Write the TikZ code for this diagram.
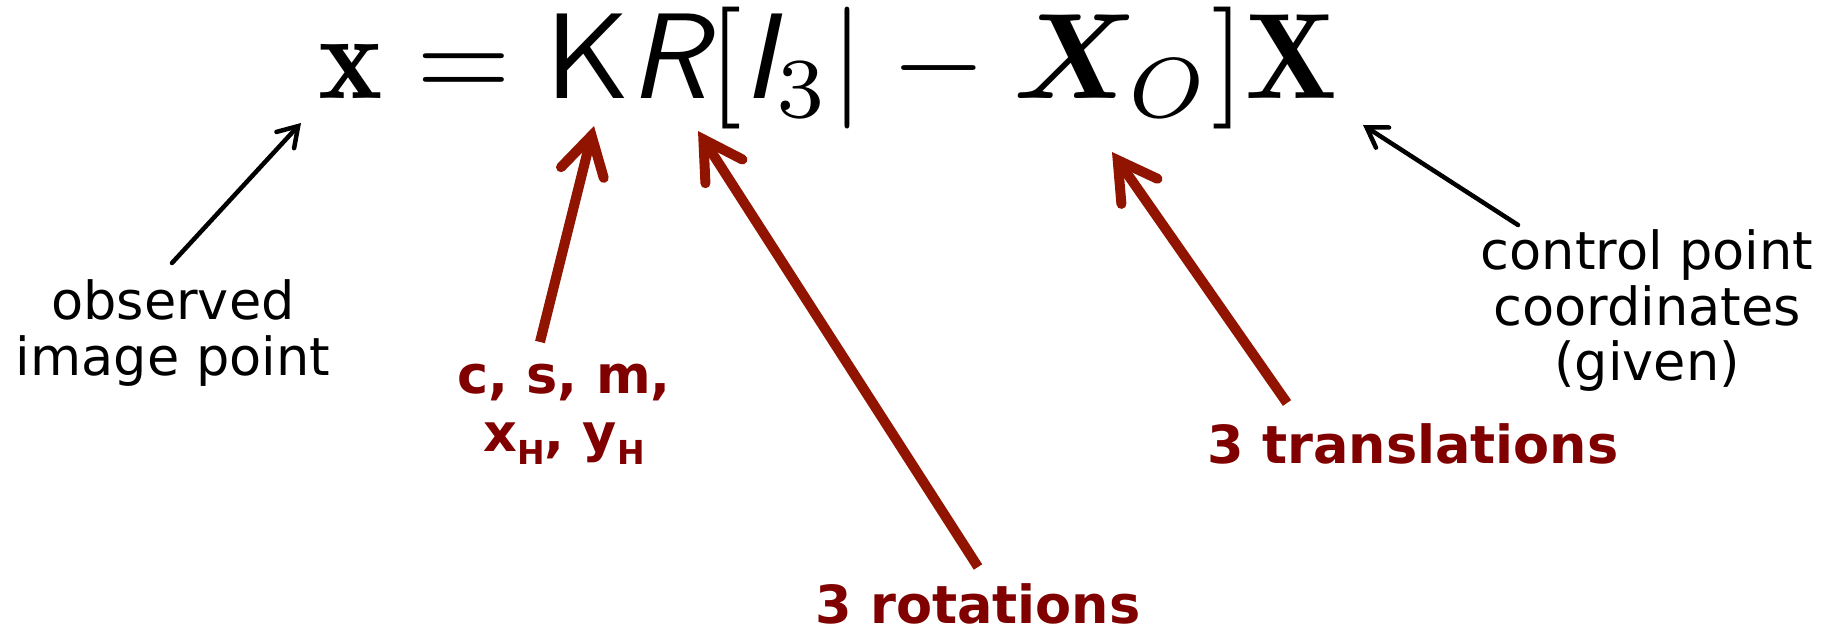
\documentclass[tikz,border=0pt]{standalone}
\usepackage{amsmath}
\usepackage{bm}
\usepackage{fontspec}
\usetikzlibrary{arrows.meta}
\newfontfamily\dv{DejaVu Sans}
\definecolor{arrred}{RGB}{145,20,0}
\definecolor{txtred}{RGB}{128,0,0}
\newcommand{\sub}[1]{\raisebox{-13pt}{\fontsize{33}{33}\selectfont #1}}
\tikzset{
  lbl/.style={inner sep=0pt, align=center, font=\dv\fontsize{52.5}{55.5}\selectfont},
  redlbl/.style={inner sep=0pt, align=center, text=txtred, font=\dv\bfseries\fontsize{52.5}{58}\selectfont},
  blackarr/.style={line width=4.5pt, line cap=round, -{Straight Barb[length=19pt,width=24pt,line cap=round]}},
  redarr/.style={draw=arrred, line width=10pt, -{Straight Barb[length=38pt,width=44pt,line cap=round,line join=miter]}}
}
\begin{document}
\begin{tikzpicture}[x=1pt,y=-1pt]
\useasboundingbox (0,0) rectangle (1834,628);
\node[anchor=base west, inner sep=0pt] (formula) at (318,99)
  {\resizebox{1019pt}{!}{$\mathbf{x} = \mbox{\sffamily K}\mbox{\sffamily\itshape R}[\mbox{\sffamily\itshape I}_3| - \bm{X}_O]\mathbf{X}$}};
\node[lbl] (obs) at (173,333) {observed\\image point};
\node[redlbl] (intr) at (564,414) {c, s, m,\\x\sub{H}, y\sub{H}};
\node[redlbl] (rot) at (978,604) {3 rotations};
\node[redlbl] (trans) at (1413,444) {3 translations};
\node[lbl] (ctrl) at (1647,311) {control point\\coordinates\\(given)};
\coordinate (obsS) at (172,263);
\coordinate (obsT) at (301,123);
\coordinate (intrS) at (540,342);
\coordinate (intrT) at (594,126);
\coordinate (rotS) at (978,567);
\coordinate (rotT) at (698,131);
\coordinate (transS) at (1287,403);
\coordinate (transT) at (1112,152);
\coordinate (ctrlS) at (1518,225);
\coordinate (ctrlT) at (1363,125);
\draw[blackarr] (obsS) -- (obsT);
\draw[blackarr] (ctrlS) -- (ctrlT);
\draw[redarr] (intrS) -- (intrT);
\draw[redarr] (rotS) -- (rotT);
\draw[redarr] (transS) -- (transT);
\end{tikzpicture}
\end{document}
